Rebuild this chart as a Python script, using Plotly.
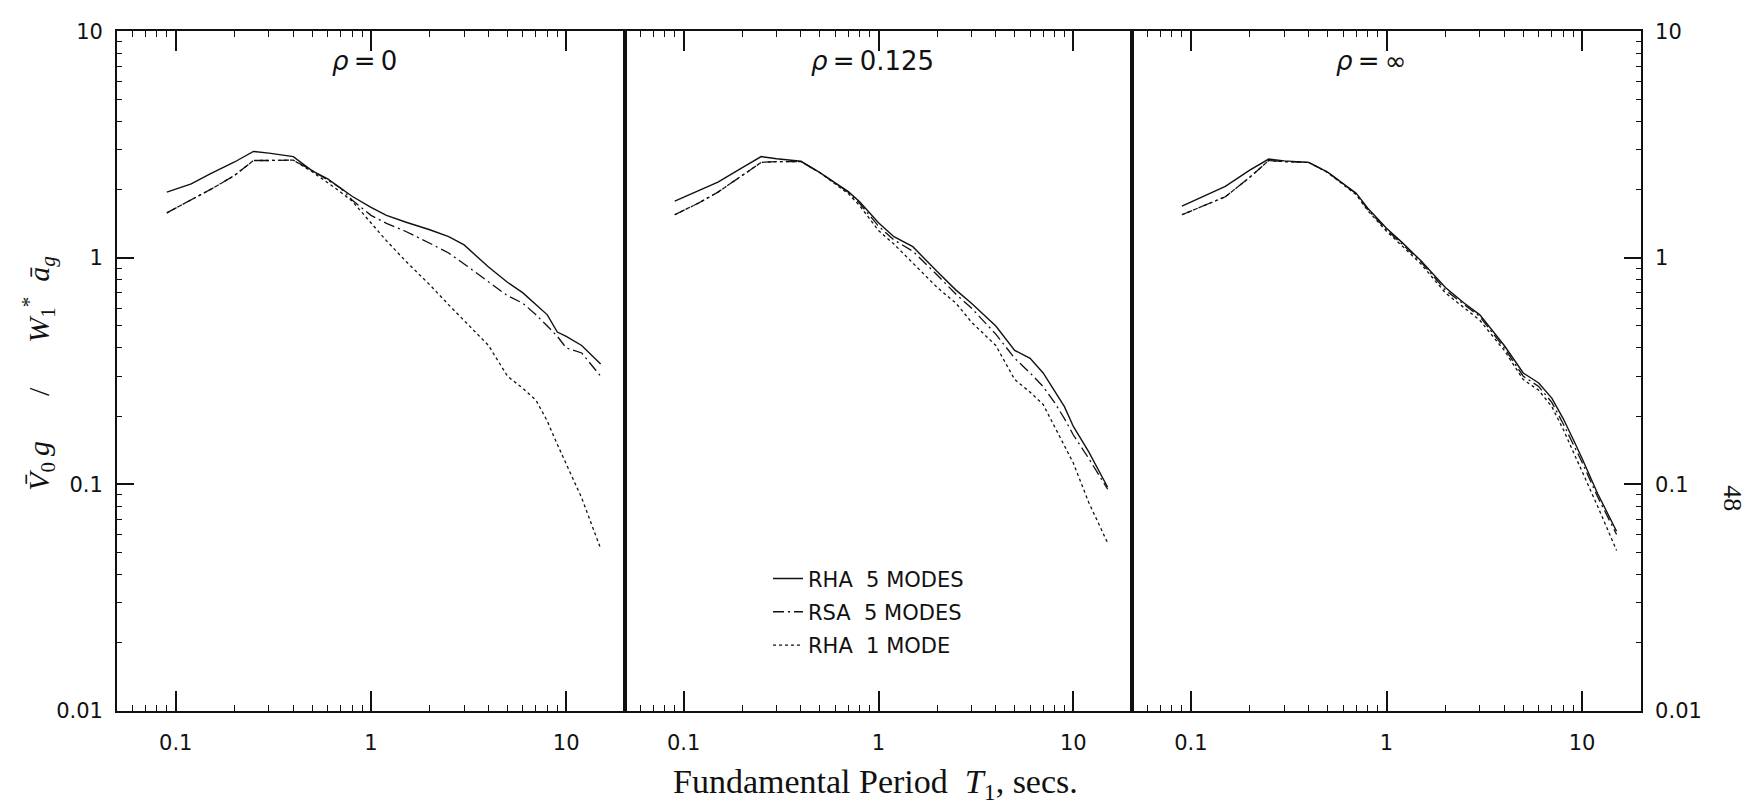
import math
import plotly.graph_objects as go
from plotly.subplots import make_subplots

# Fundamental period T1 (s) at which the base shear was evaluated
period = [0.09, 0.12, 0.15, 0.2, 0.25, 0.3, 0.4, 0.5, 0.6, 0.7, 0.8, 1.0, 1.2, 1.5,
          2.0, 2.5, 3.0, 4.0, 5.0, 6.0, 7.0, 8.0, 9.0, 10.0, 12.0, 15.0]

# Normalised base shear, rho = 0
rho0_rha5 = [1.95, 2.12, 2.35, 2.65, 2.95, 2.90, 2.80, 2.42, 2.23, 2.03, 1.87, 1.67, 1.54, 1.44,
             1.33, 1.24, 1.14, 0.91, 0.78, 0.70, 0.62, 0.56, 0.47, 0.45, 0.41, 0.34]
rho0_rsa5 = [1.58, 1.80, 2.00, 2.31, 2.69, 2.69, 2.70, 2.43, 2.20, 2.03, 1.80, 1.54, 1.42, 1.31,
             1.16, 1.05, 0.94, 0.78, 0.68, 0.63, 0.56, 0.50, 0.45, 0.40, 0.38, 0.30]
rho0_rha1 = [1.58, 1.80, 2.00, 2.31, 2.69, 2.69, 2.70, 2.40, 2.15, 1.95, 1.78, 1.43, 1.19, 0.97,
             0.76, 0.62, 0.53, 0.41, 0.30, 0.265, 0.235, 0.19, 0.15, 0.123, 0.087, 0.052]

# rho = 0.125
rho125_rha5 = [1.78, 1.98, 2.16, 2.50, 2.80, 2.74, 2.67, 2.38, 2.14, 1.96, 1.77, 1.43, 1.24, 1.12,
               0.87, 0.72, 0.63, 0.50, 0.39, 0.36, 0.31, 0.26, 0.22, 0.18, 0.139, 0.097]
rho125_rsa5 = [1.55, 1.75, 1.95, 2.31, 2.64, 2.66, 2.66, 2.38, 2.14, 1.95, 1.74, 1.38, 1.20, 1.07,
               0.84, 0.69, 0.60, 0.46, 0.36, 0.31, 0.27, 0.23, 0.195, 0.165, 0.13, 0.095]
rho125_rha1 = [1.55, 1.75, 1.95, 2.31, 2.64, 2.66, 2.66, 2.38, 2.12, 1.92, 1.70, 1.32, 1.15, 0.95,
               0.74, 0.63, 0.52, 0.41, 0.29, 0.255, 0.225, 0.18, 0.148, 0.124, 0.083, 0.055]

# rho = infinity
rhoinf_rha5 = [1.69, 1.90, 2.07, 2.44, 2.73, 2.68, 2.64, 2.39, 2.12, 1.93, 1.66, 1.35, 1.17, 0.97,
               0.74, 0.63, 0.56, 0.41, 0.31, 0.28, 0.24, 0.195, 0.158, 0.13, 0.091, 0.062]
rhoinf_rsa5 = [1.55, 1.72, 1.86, 2.27, 2.69, 2.66, 2.64, 2.39, 2.12, 1.92, 1.64, 1.33, 1.15, 0.96,
               0.72, 0.62, 0.55, 0.40, 0.30, 0.27, 0.23, 0.185, 0.15, 0.125, 0.088, 0.060]
rhoinf_rha1 = [1.55, 1.72, 1.86, 2.27, 2.69, 2.66, 2.64, 2.38, 2.10, 1.90, 1.62, 1.31, 1.13, 0.94,
               0.70, 0.60, 0.53, 0.39, 0.29, 0.26, 0.22, 0.175, 0.14, 0.115, 0.08, 0.051]

panel_titles = ["<i>ρ</i>\u2009=\u20090", "<i>ρ</i>\u2009=\u20090.125", "<i>ρ</i>\u2009=\u2009∞"]
series_names = ["RHA\u00a0\u00a05\u00a0MODES", "RSA\u00a0\u00a05\u00a0MODES", "RHA\u00a0\u00a01\u00a0MODE"]

x_ticks = [0.1, 1, 10]
x_ticktext = ["0.1", "1", "10"]
y_ticks = [0.01, 0.1, 1, 10]
y_ticktext = ["0.01", "0.1", "1", "10"]

panels = [
    (rho0_rha5, rho0_rsa5, rho0_rha1),
    (rho125_rha5, rho125_rsa5, rho125_rha1),
    (rhoinf_rha5, rhoinf_rsa5, rhoinf_rha1),
]

W, H = 1750, 809
LABEL_FONT = "DejaVu Sans"
SERIF = "Liberation Serif"
INK = "#111111"

dash_styles = ["solid", "11px,4px,2px,4px", "3px,3px"]
line_widths = [1.4, 1.3, 1.3]

x_minor = [m * 10 ** e for e in (-2, -1, 0, 1) for m in range(2, 10) if 0.05 <= m * 10 ** e <= 20]
y_minor = [m * 10 ** e for e in (-2, -1, 0) for m in range(2, 10)]

fig = make_subplots(rows=1, cols=3, horizontal_spacing=0)

for p, curves in enumerate(panels):
    for s, values in enumerate(curves):
        fig.add_trace(
            go.Scatter(
                x=period, y=values, mode="lines", name=series_names[s],
                legendgroup=series_names[s], showlegend=(p == 0),
                line=dict(color=INK, width=line_widths[s], dash=dash_styles[s]),
            ),
            row=1, col=p + 1,
        )

# plot area edges in pixels
left, right, top, bottom = 117, 1641, 20, 720
edges = [left, 625, 1132, right]
ydom = [1 - bottom / H, 1 - top / H]

for p in range(3):
    xname = "xaxis" if p == 0 else f"xaxis{p + 1}"
    yname = "yaxis" if p == 0 else f"yaxis{p + 1}"
    fig.layout[xname].update(
        type="log", range=[math.log10(0.05), math.log10(20)],
        domain=[edges[p] / W, edges[p + 1] / W],
        tickmode="array", tickvals=x_ticks, ticktext=x_ticktext,
        ticks="inside", ticklen=20, tickwidth=2, tickcolor=INK,
        showline=True, linewidth=1.8, linecolor=INK, mirror="ticks",
        showgrid=False, zeroline=False,
        tickfont=dict(family=LABEL_FONT, size=21, color=INK),
        ticklabelstandoff=12,
        minor=dict(tickmode="array", tickvals=x_minor, ticks="inside", ticklen=6,
                   tickwidth=1, tickcolor=INK, showgrid=False),
    )
    yopts = dict(
        type="log", range=[-2, 1], domain=ydom,
        tickmode="array", tickvals=y_ticks, ticktext=y_ticktext,
        showline=True, linewidth=1.8, linecolor=INK, mirror=True,
        showgrid=False, zeroline=False,
        tickfont=dict(family=LABEL_FONT, size=21, color=INK),
    )
    if p == 1:
        yopts.update(ticks="", showticklabels=False)
    else:
        yopts.update(
            ticks="inside", ticklen=17, tickwidth=2, tickcolor=INK,
            ticklabelstandoff=8,
            minor=dict(tickmode="array", tickvals=y_minor, ticks="inside", ticklen=5,
                       tickwidth=1, tickcolor=INK, showgrid=False),
        )
        if p == 2:
            yopts.update(side="right")
    fig.layout[yname].update(**yopts)

annotations = []
title_x = [364, 872, 1371]
for p in range(3):
    annotations.append(dict(
        text=panel_titles[p], x=title_x[p] / W, y=1 - 50 / H, xref="paper", yref="paper",
        showarrow=False, xanchor="center", yanchor="middle",
        font=dict(family=LABEL_FONT, size=26, color=INK),
    ))

annotations.append(dict(
    text=("<i>V\u0304</i><sub>0</sub>\u2009<i>g</i>\u2003\u2002/\u2003\u2002"
          "<i>W</i><sub>1</sub><sup>*</sup>\u2002<i>a\u0304</i><sub><i>g</i></sub>"),
    x=39 / W, y=1 - 373 / H, xref="paper", yref="paper", textangle=-90,
    showarrow=False, xanchor="center", yanchor="middle",
    font=dict(family=SERIF, size=30, color=INK),
))
annotations.append(dict(
    text="Fundamental Period  <i>T</i><sub>1</sub>, secs.",
    x=875 / W, y=1 - 796 / H, xref="paper", yref="paper",
    showarrow=False, xanchor="center", yanchor="middle",
    font=dict(family=SERIF, size=34, color=INK),
))
annotations.append(dict(
    text="48", x=1733 / W, y=1 - 501 / H, xref="paper", yref="paper", textangle=90,
    showarrow=False, xanchor="center", yanchor="middle",
    font=dict(family=SERIF, size=26, color=INK),
))

fig.update_layout(
    width=W, height=H,
    margin=dict(l=0, r=0, t=0, b=0),
    paper_bgcolor="white", plot_bgcolor="white",
    annotations=annotations,
    showlegend=True,
    legend=dict(
        x=768 / W, y=1 - 563 / H, xanchor="left", yanchor="top",
        bgcolor="rgba(0,0,0,0)", borderwidth=0,
        traceorder="grouped", tracegroupgap=3,
        font=dict(family=LABEL_FONT, size=21, color=INK),
    ),
)

fig.write_html("out.html")
